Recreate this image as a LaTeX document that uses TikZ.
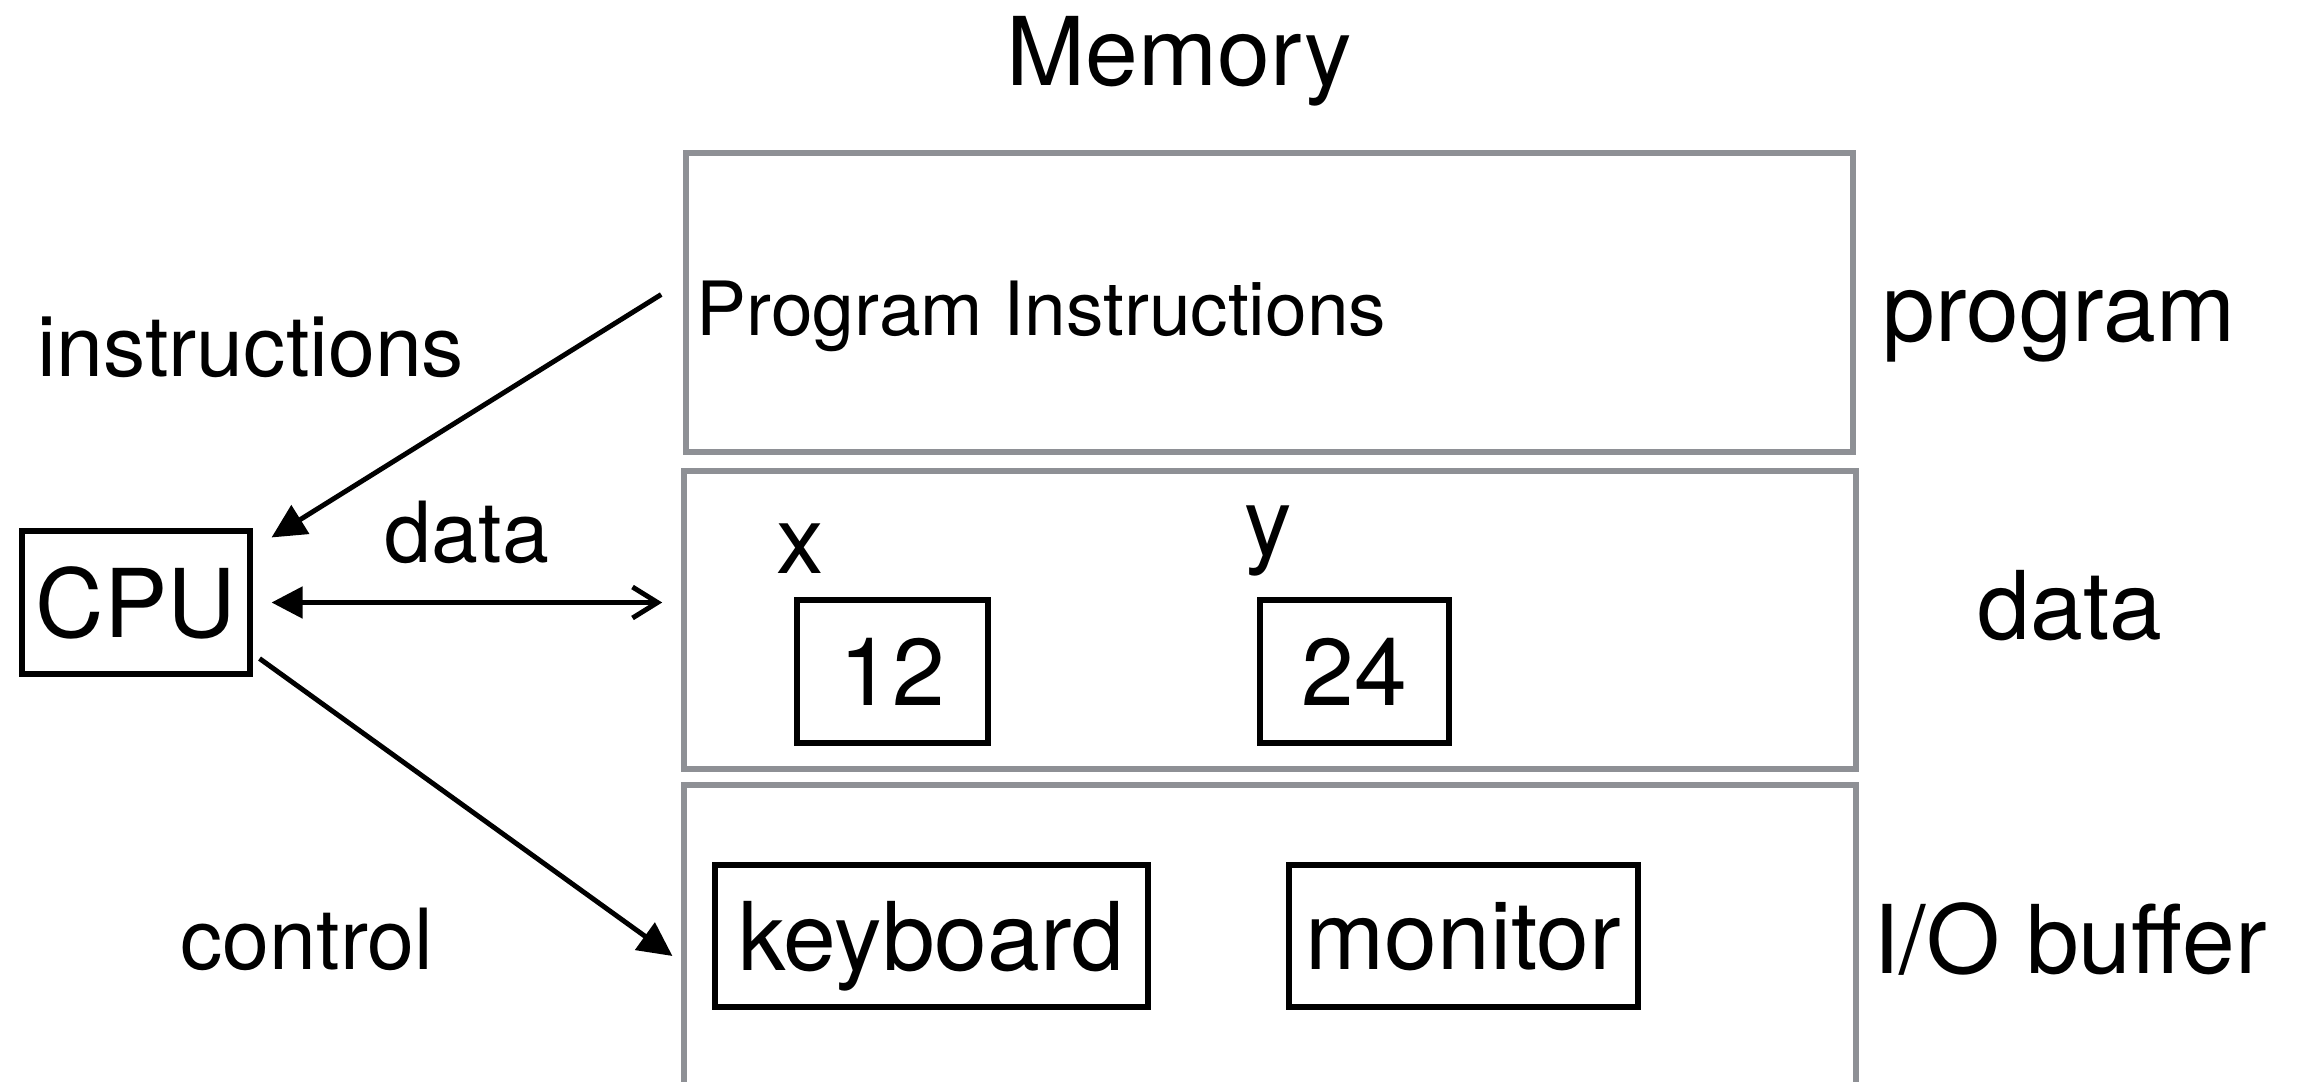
\documentclass[tikz,border=0pt]{standalone}
\usepackage{fontspec}
\setmainfont{TeX Gyre Heros}
\usetikzlibrary{arrows.meta}
\definecolor{memgray}{HTML}{8E9095}
\newcommand\bigfont{\fontsize{27}{32}\selectfont}
\newcommand\midfont{\fontsize{24}{29}\selectfont}
\newcommand\smallfont{\fontsize{21.3}{25}\selectfont}
\tikzset{
  membox/.style={draw=memgray, line width=1.6pt, minimum width=11.72cm, minimum height=2.98cm, inner sep=0},
  cell/.style={draw=black, line width=1.45pt, inner sep=0, text depth=0pt, font=\bigfont},
  lbl/.style={inner sep=0, anchor=base, font=\bigfont},
  alb/.style={inner sep=0, anchor=base, font=\midfont},
  link/.style={line width=1.4pt, -{Triangle[length=3.4mm,width=3.3mm]}},
  dbl/.style={line width=1.4pt, {Triangle[length=3.1mm,width=3.1mm]}-{Straight Barb[length=2.5mm,width=3.1mm]}},
}

\begin{document}
\begin{tikzpicture}

  \useasboundingbox (0,0) rectangle (23.02,-10.82);

  % memory blocks
  \node[lbl] (memlbl) at (11.79,-0.85) {Memory};
  \node[membox, minimum width=11.67cm, minimum height=2.99cm] (progbox) at (12.695,-3.025) {};
  \node[membox] (databox) at (12.70,-6.20) {};
  \node[membox, minimum height=3.5cm] (iobox) at (12.70,-9.60) {};

  \node[inner sep=0, anchor=base west, font=\smallfont] (progtext) at (6.96,-3.35) {Program Instructions};

  \node[lbl] (xlbl) at (8.00,-5.73) {x};
  \node[lbl] (ylbl) at (12.68,-5.55) {y};
  \node[cell, minimum width=1.91cm, minimum height=1.43cm] (xcell) at (8.925,-6.715) {12};
  \node[cell, minimum width=1.89cm, minimum height=1.43cm] (ycell) at (13.545,-6.715) {24};

  \node[cell, minimum width=4.33cm, minimum height=1.42cm] (kbd) at (9.315,-9.36) {keyboard};
  \node[cell, minimum width=3.49cm, minimum height=1.42cm] (mon) at (14.635,-9.36) {monitor};

  % segment names
  \node[lbl] (proglbl) at (20.59,-3.41) {program};
  \node[lbl] (datalbl) at (20.70,-6.39) {data};
  \node[lbl] (iolbl) at (20.70,-9.73) {I/O buffer};

  % cpu and buses
  \node[cell, minimum width=2.28cm, minimum height=1.43cm] (cpu) at (1.36,-6.025) {CPU};

  \node[alb] (instlbl) at (2.51,-3.76) {instructions};
  \node[alb] (buslbl) at (4.67,-5.62) {data};
  \node[alb] (ctrllbl) at (3.07,-9.69) {control};

  \coordinate (dataport) at (cpu.east -| databox.west);

  \draw[link] ([shift={(-0.22,0.08)}]progbox.west) -- ([shift={(0.19,-0.09)}]cpu.north east);
  \draw[dbl] ([xshift=1.9mm]cpu.east) -- ([xshift=-1.9mm]dataport);
  \draw[link] ([shift={(0.07,0.18)}]cpu.south east) -- ([shift={(-0.40,-0.20)}]kbd.west);

\end{tikzpicture}
\end{document}
